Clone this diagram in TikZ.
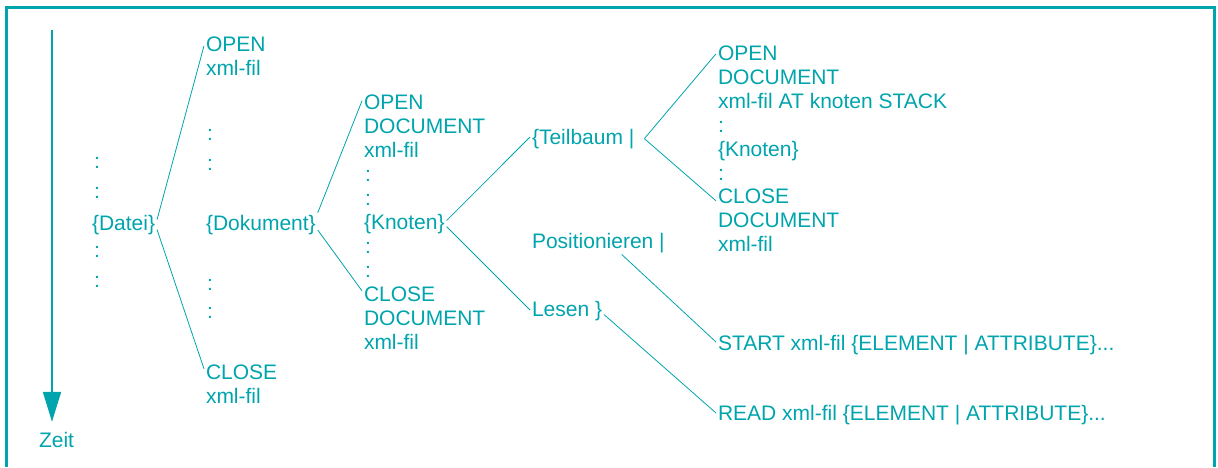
\documentclass[tikz,border=0pt]{standalone}
\usepackage{fontspec}
\setmainfont{Liberation Sans}
\usetikzlibrary{arrows.meta}
\definecolor{tealline}{RGB}{0,164,172}
\tikzset{
  txt/.style={inner sep=0pt, outer sep=2pt, anchor=base west, align=left,
    text=tealline, font=\fontsize{21}{24}\selectfont},
  link/.style={draw=tealline, line width=0.8pt}
}
\begin{document}
\begin{tikzpicture}[x=1pt,y=-1pt]
\useasboundingbox (0,0) rectangle (1218,467);
\draw[tealline, line width=3pt](6.5,467) |- (1214.5,7.5) -- (1214.5,467);

\coordinate (top) at (52,30);
\node[txt] (zeit) at (37,447) {Zeit};
\draw[tealline, line width=2pt, -{Triangle[width=18pt,length=30pt]}, shorten >=8pt](top) -- (top |- zeit.north);

% multi-line nodes sit on their last baseline
\foreach \y [count=\i] in {168,198,257,287} \node[txt] (da\i) at (92,\y) {:};
\node[txt] (datei) at (90,230) {\{Datei\}};

\node[txt] (open1) at (204,75) {OPEN\\xml-fil};
\foreach \y [count=\i] in {140,170,290,318} \node[txt] (db\i) at (205,\y) {:};
\node[txt] (dokument) at (204,230) {\{Dokument\}};
\node[txt] (close1) at (204,403) {CLOSE\\xml-fil};

\node[txt] (open2) at (362,157) {OPEN\\DOCUMENT\\xml-fil};
\foreach \y [count=\i] in {181,205,253,277} \node[txt] (dc\i) at (363,\y) {:};
\node[txt] (knoten) at (362,229) {\{Knoten\}};
\node[txt] (close2) at (362,349) {CLOSE\\DOCUMENT\\xml-fil};

\node[txt] (teilbaum) at (530,144) {\{Teilbaum |};
\node[txt] (posit) at (530,248) {Positionieren |};
\node[txt] (lesen) at (530,316) {Lesen \}};

\node[txt] (open3) at (716,108.5) {OPEN\\DOCUMENT\\xml-fil AT knoten STACK};
\node[txt] (mid3) at (716,180) {:\\\{Knoten\}\\:};
\node[txt] (close3) at (716,251) {CLOSE\\DOCUMENT\\xml-fil};
\node[txt] (start) at (716,350) {START xml-fil \{ELEMENT | ATTRIBUTE\}...};
\node[txt] (read) at (716,420) {READ xml-fil \{ELEMENT | ATTRIBUTE\}...};

\draw[link]([yshift=5pt]datei.east) -- ([yshift=-11.5pt]open1.north west);
\draw[link]([yshift=-5pt]datei.east) -- ([yshift=-6.5pt]close1.north west);
\draw[link](dokument.north east) -- ([yshift=-8.5pt]open2.north west);
\draw[link](dokument.base east) -- ([yshift=-6.5pt]close2.north west);
\draw[link]([yshift=3pt]knoten.east) -- ([yshift=7pt]teilbaum.base west);
\draw[link]([yshift=-3pt]knoten.east) -- ([yshift=6pt]lesen.base west);
\draw[link]([xshift=8pt]teilbaum.east) -- ([yshift=-10pt]open3.north west);
\draw[link]([xshift=8pt]teilbaum.east) -- ([yshift=-14.5pt]close3.north west);
\draw[link]([xshift=-45pt]posit.south east) -- ([yshift=8pt]start.base west);
\draw[link]([yshift=-4pt]lesen.east) -- ([yshift=7pt]read.base west);

\end{tikzpicture}
\end{document}
